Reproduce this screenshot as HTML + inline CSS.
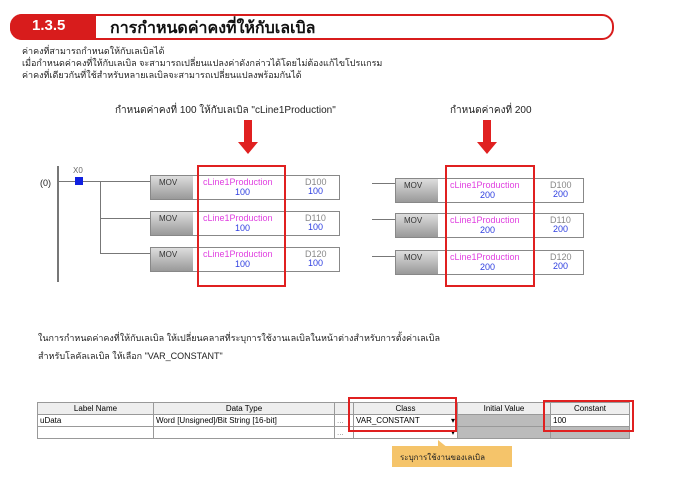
<!DOCTYPE html>
<html><head><meta charset="utf-8"><style>
body{margin:0;width:690px;height:480px;background:#fff;position:relative;overflow:hidden;font-family:"Liberation Sans","Noto Sans CJK SC",sans-serif;}
.a{position:absolute;}
.t{position:absolute;font-size:9px;color:#222;white-space:nowrap;}
.blk{position:absolute;height:23px;border:1px solid #888;background:#fff;}
.mov{position:absolute;left:0;top:0;width:42px;height:23px;background:linear-gradient(#ddd,#999);font-size:8px;color:#333;}
.mov span{position:absolute;left:8px;top:2px}
.mg{position:absolute;color:#e040e0;font-size:9px;white-space:nowrap}
.bl{position:absolute;color:#3040e0;font-size:9px}
.gr{position:absolute;color:#888;font-size:9px}
.red{position:absolute;border:2px solid #e02020;}
.ln{position:absolute;background:#777;}
td{border:1px solid #999;font-size:8px;padding:0 2px;height:11px;white-space:nowrap}
</style></head><body>
<!-- header -->
<div class="a" style="left:10px;top:14px;width:600px;height:22px;border:2px solid #d81c1c;border-radius:12px;"></div>
<div class="a" style="left:10px;top:14px;width:86px;height:26px;background:#d81c1c;border-radius:12px 0 0 12px;"></div>
<div class="a" style="left:32px;top:17px;color:#fff;font-weight:bold;font-size:15px;">1.3.5</div>
<div class="a" style="left:110px;top:16px;color:#111;font-weight:bold;font-size:16px;">การกำหนดค่าคงที่ให้กับเลเบิล</div>
<div class="t" style="left:22px;top:44px">ค่าคงที่สามารถกำหนดให้กับเลเบิลได้</div>
<div class="t" style="left:22px;top:56px">เมื่อกำหนดค่าคงที่ให้กับเลเบิล จะสามารถเปลี่ยนแปลงค่าดังกล่าวได้โดยไม่ต้องแก้ไขโปรแกรม</div>
<div class="t" style="left:22px;top:68px">ค่าคงที่เดียวกันที่ใช้สำหรับหลายเลเบิลจะสามารถเปลี่ยนแปลงพร้อมกันได้</div>
<div class="t" style="left:115px;top:103px;font-size:10px">กำหนดค่าคงที่ 100 ให้กับเลเบิล "cLine1Production"</div>
<div class="t" style="left:450px;top:103px;font-size:10px">กำหนดค่าคงที่ 200</div>
<!-- arrows -->
<div class="a" style="left:244px;top:120px;width:8px;height:22px;background:#e02020"></div>
<div class="a" style="left:238px;top:142px;width:0;height:0;border-left:10px solid transparent;border-right:10px solid transparent;border-top:12px solid #e02020"></div>
<div class="a" style="left:483px;top:120px;width:8px;height:22px;background:#e02020"></div>
<div class="a" style="left:477px;top:142px;width:0;height:0;border-left:10px solid transparent;border-right:10px solid transparent;border-top:12px solid #e02020"></div>
<!-- left ladder -->
<div class="ln" style="left:57px;top:166px;width:2px;height:116px"></div>
<div class="t" style="left:40px;top:178px">(0)</div>
<div class="t" style="left:73px;top:166px;font-size:8px;color:#666">X0</div>
<div class="ln" style="left:59px;top:181px;width:91px;height:1px"></div>
<div class="a" style="left:75px;top:177px;width:8px;height:8px;background:#1020e0"></div>
<div class="ln" style="left:100px;top:181px;width:1px;height:73px"></div>
<div class="ln" style="left:100px;top:218px;width:50px;height:1px"></div>
<div class="ln" style="left:100px;top:253px;width:50px;height:1px"></div>
<!-- blocks left -->
<div class="blk" style="left:150px;top:175px;width:188px"><div class="mov"><span>MOV</span></div><div class="mg" style="left:52px;top:1px">cLine1Production</div><div class="bl" style="left:84px;top:11px">100</div><div class="gr" style="left:154px;top:1px">D100</div><div class="bl" style="left:157px;top:10px">100</div></div>
<div class="blk" style="left:150px;top:211px;width:188px"><div class="mov"><span>MOV</span></div><div class="mg" style="left:52px;top:1px">cLine1Production</div><div class="bl" style="left:84px;top:11px">100</div><div class="gr" style="left:154px;top:1px">D110</div><div class="bl" style="left:157px;top:10px">100</div></div>
<div class="blk" style="left:150px;top:247px;width:188px"><div class="mov"><span>MOV</span></div><div class="mg" style="left:52px;top:1px">cLine1Production</div><div class="bl" style="left:84px;top:11px">100</div><div class="gr" style="left:154px;top:1px">D120</div><div class="bl" style="left:157px;top:10px">100</div></div>
<div class="red" style="left:197px;top:165px;width:85px;height:118px"></div>
<!-- right ladder -->
<div class="ln" style="left:372px;top:183px;width:23px;height:1px"></div>
<div class="ln" style="left:372px;top:219px;width:23px;height:1px"></div>
<div class="ln" style="left:372px;top:256px;width:23px;height:1px"></div>
<div class="blk" style="left:395px;top:178px;width:187px"><div class="mov"><span>MOV</span></div><div class="mg" style="left:54px;top:1px">cLine1Production</div><div class="bl" style="left:84px;top:11px">200</div><div class="gr" style="left:154px;top:1px">D100</div><div class="bl" style="left:157px;top:10px">200</div></div>
<div class="blk" style="left:395px;top:213px;width:187px"><div class="mov"><span>MOV</span></div><div class="mg" style="left:54px;top:1px">cLine1Production</div><div class="bl" style="left:84px;top:11px">200</div><div class="gr" style="left:154px;top:1px">D110</div><div class="bl" style="left:157px;top:10px">200</div></div>
<div class="blk" style="left:395px;top:250px;width:187px"><div class="mov"><span>MOV</span></div><div class="mg" style="left:54px;top:1px">cLine1Production</div><div class="bl" style="left:84px;top:11px">200</div><div class="gr" style="left:154px;top:1px">D120</div><div class="bl" style="left:157px;top:10px">200</div></div>
<div class="red" style="left:445px;top:165px;width:86px;height:118px"></div>
<!-- text -->
<div class="t" style="left:38px;top:331px">ในการกำหนดค่าคงที่ให้กับเลเบิล ให้เปลี่ยนคลาสที่ระบุการใช้งานเลเบิลในหน้าต่างสำหรับการตั้งค่าเลเบิล</div>
<div class="t" style="left:38px;top:349px">สำหรับโลคัลเลเบิล ให้เลือก "VAR_CONSTANT"</div>
<!-- table -->
<table class="a" style="left:37px;top:402px;border-collapse:collapse;table-layout:fixed;width:593px">
<tr style="background:#eee;text-align:center"><td style="width:111px">Label Name</td><td style="width:176px">Data Type</td><td style="width:14px"></td><td style="width:99px">Class</td><td style="width:88px">Initial Value</td><td>Constant</td></tr>
<tr><td>uData</td><td>Word [Unsigned]/Bit String [16-bit]</td><td style="color:#888">...</td><td>VAR_CONSTANT <span style="float:right">▾</span></td><td style="background:#bbb"></td><td>100</td></tr>
<tr><td></td><td></td><td style="color:#888">...</td><td><span style="float:right">▾</span></td><td style="background:#bbb"></td><td style="background:#bbb"></td></tr>
</table>
<div class="red" style="left:348px;top:397px;width:105px;height:31px"></div>
<div class="red" style="left:543px;top:400px;width:87px;height:28px"></div>
<div class="a" style="left:438px;top:440px;width:0;height:0;border-left:0 solid transparent;border-right:10px solid transparent;border-bottom:8px solid #f5c46a"></div>
<div class="a" style="left:392px;top:446px;width:120px;height:21px;background:#f5c46a"></div>
<div class="t" style="left:400px;top:451px;font-size:8px">ระบุการใช้งานของเลเบิล</div>
</body></html>
